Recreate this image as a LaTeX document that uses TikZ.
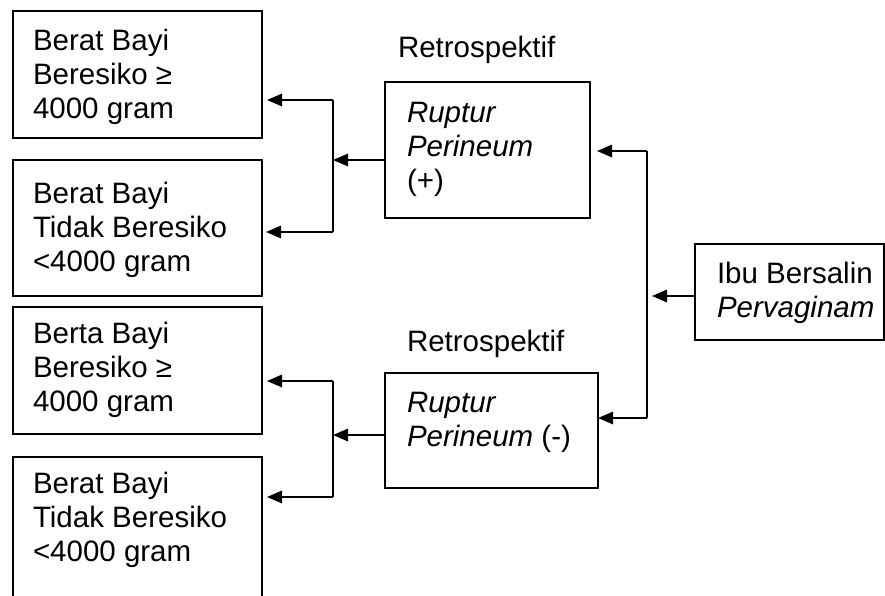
\documentclass[tikz,border=0pt]{standalone}
\usepackage{fontspec}
\setmainfont{Liberation Sans}
\usetikzlibrary{arrows.meta}
\begin{document}
\begin{tikzpicture}[x=1pt,y=-1pt,
  box/.style={draw,rectangle,line width=1.6pt,inner sep=0pt,outer sep=0pt},
  txt/.style={anchor=north west,inner sep=0pt,outer sep=0pt,align=left,font=\fontsize{29.5}{34}\selectfont},
  ln/.style={line width=1.6pt},
  conn/.style={line width=1.6pt,-{Triangle[length=15pt,width=12.5pt]}}]
\useasboundingbox (0,0) rectangle (885,596);
\clip (0,0) rectangle (885,596);
% left boxes
\node[box,minimum width=249pt,minimum height=127pt] (b1) at (137.5,74.5) {};
\node[txt] (t1) at (33,29) {Berat Bayi\\Beresiko ≥\\4000 gram};
\node[box,minimum width=249pt,minimum height=136pt] (b2) at (137.5,228) {};
\node[txt] (t2) at (33,182) {Berat Bayi\\Tidak Beresiko\\<4000 gram};
\node[box,minimum width=249pt,minimum height=127pt] (b3) at (137.5,370.5) {};
\node[txt] (t3) at (33,322) {Berta Bayi\\Beresiko ≥\\4000 gram};
\node[box,minimum width=249pt,minimum height=193pt] (b4) at (137.5,553.5) {};
\node[txt] (t4) at (33,472) {Berat Bayi\\Tidak Beresiko\\<4000 gram};
% middle boxes
\node[txt] (l1) at (398,36) {Retrospektif};
\node[box,minimum width=205pt,minimum height=136pt] (m1) at (487.5,150) {};
\node[txt] (tm1) at (407,102) {\textit{Ruptur}\\\textit{Perineum}\\(+)};
\node[txt] (l2) at (407,330) {Retrospektif};
\node[box,minimum width=213pt,minimum height=115pt] (m2) at (491.5,430.5) {};
\node[txt] (tm2) at (407,392) {\textit{Ruptur}\\\textit{Perineum} (-)};
% right box
\node[box,minimum width=189pt,minimum height=96pt] (ibu) at (789.5,292) {};
\node[txt] (ti) at (717,262) {Ibu Bersalin\\\textit{Pervaginam}};
% upper left fork
\coordinate (u1) at (333,100);
\coordinate (u2) at (333,232);
\coordinate (um) at (333,160);
\draw[ln] (u1) -- (u2);
\draw[conn,shorten >=5pt] (u1) -- (b1.east |- u1);
\draw[conn,shorten >=4pt] (u2) -- (b2.east |- u2);
\draw[conn] (m1.west |- um) -- (um);
% lower left fork
\coordinate (d1) at (333,381);
\coordinate (d2) at (333,497);
\coordinate (dm) at (333,435);
\draw[ln] (d1) -- (d2);
\draw[conn,shorten >=5pt] (d1) -- (b3.east |- d1);
\draw[conn,shorten >=5pt] (d2) -- (b4.east |- d2);
\draw[conn] (m2.west |- dm) -- (dm);
% right fork
\coordinate (r1) at (647,151);
\coordinate (r2) at (647,418);
\coordinate (rm) at (647,296);
\draw[ln] (r1) -- (r2);
\draw[conn,shorten >=7pt] (r1) -- (m1.east |- r1);
\draw[conn] (r2) -- (m2.east |- r2);
\draw[conn,shorten >=5pt] (ibu.west |- rm) -- (rm);
\end{tikzpicture}
\end{document}
